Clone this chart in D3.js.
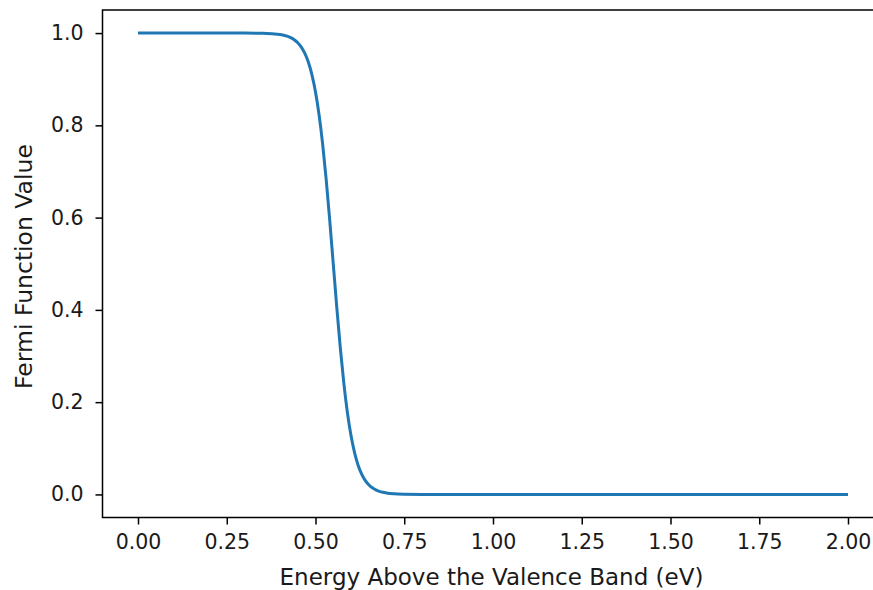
<!DOCTYPE html>
<html>
<head>
<meta charset="utf-8">
<script src="https://cdn.jsdelivr.net/npm/d3@7"></script>
<style>
  html, body { margin: 0; padding: 0; background: #fff; }
  svg { display: block; font-family: "DejaVu Sans", sans-serif; }
</style>
</head>
<body>
<svg id="chart" width="873" height="590"></svg>
<script>
const energy = [0.00, 0.10, 0.20, 0.30, 0.35, 0.40, 0.41, 0.42, 0.43, 0.44, 0.45, 0.46, 0.47, 0.48, 0.49,
                0.50, 0.51, 0.52, 0.53, 0.54, 0.55, 0.56, 0.57, 0.58, 0.59, 0.60, 0.61, 0.62, 0.63, 0.64,
                0.65, 0.66, 0.67, 0.68, 0.69, 0.70, 0.72, 0.75, 0.80, 0.90, 1.00, 1.25, 1.50, 1.75, 2.00];
const fermi  = [1.000, 1.000, 1.000, 0.9999, 0.9995, 0.9969, 0.9954, 0.9933, 0.9902, 0.9857, 0.9791, 0.9695, 0.9559, 0.9366, 0.9095,
                0.8725, 0.8232, 0.7602, 0.6834, 0.5950, 0.5000, 0.4050, 0.3166, 0.2398, 0.1768, 0.1275, 0.0905, 0.0634, 0.0441, 0.0304,
                0.0209, 0.0143, 0.0098, 0.0067, 0.0046, 0.0031, 0.0014, 0.0005, 0.0001, 0.0000, 0.0000, 0.0000, 0.0000, 0.0000, 0.0000];
const xTicks = [0.00, 0.25, 0.50, 0.75, 1.00, 1.25, 1.50, 1.75, 2.00];
const yTicks = [0.0, 0.2, 0.4, 0.6, 0.8, 1.0];
const xLabel = "Energy Above the Valence Band (eV)";
const yLabel = "Fermi Function Value";

(function () {
  const svg = d3.select("#chart");
  const mLeft = 102.5, mRight = 883.5, mTop = 10, mBottom = 517.5;

  const x = d3.scaleLinear().domain([-0.1, 2.1]).range([mLeft, mRight]);
  const y = d3.scaleLinear().domain([-0.05, 1.05]).range([mBottom, mTop]);

  const data = energy.map((e, i) => ({ e, f: fermi[i] }));

  // line
  svg.append("path")
    .datum(data)
    .attr("fill", "none")
    .attr("stroke", "#1f77b4")
    .attr("stroke-width", 3)
    .attr("stroke-linejoin", "round")
    .attr("d", d3.line().x(d => x(d.e)).y(d => y(d.f)).curve(d3.curveMonotoneX));

  // axes
  const xAxis = d3.axisBottom(x).tickValues(xTicks).tickFormat(d3.format(".2f")).tickSize(7).tickPadding(10);
  const yAxis = d3.axisLeft(y).tickValues(yTicks).tickFormat(d3.format(".1f")).tickSize(7).tickPadding(12);

  const gx = svg.append("g").attr("transform", `translate(0,${mBottom})`).call(xAxis);
  const gy = svg.append("g").attr("transform", `translate(${mLeft},0)`).call(yAxis);
  [gx, gy].forEach(g => {
    g.select(".domain").remove();
    g.selectAll(".tick line").attr("stroke", "#000").attr("stroke-width", 1.5);
    g.selectAll(".tick text").attr("fill", "#1a1a1a").style("font-size", "20.5px").style("font-family", "'DejaVu Sans', sans-serif");
  });

  // frame
  svg.append("rect")
    .attr("x", mLeft).attr("y", mTop)
    .attr("width", mRight - mLeft).attr("height", mBottom - mTop)
    .attr("fill", "none").attr("stroke", "#000").attr("stroke-width", 1.5);

  // labels
  svg.append("text")
    .attr("x", 491.5)
    .attr("y", 585)
    .attr("text-anchor", "middle")
    .style("font-size", "23px")
    .attr("fill", "#1a1a1a")
    .text(xLabel);

  svg.append("text")
    .attr("transform", `translate(32,266.5) rotate(-90)`)
    .attr("text-anchor", "middle")
    .style("font-size", "23.5px")
    .attr("fill", "#1a1a1a")
    .text(yLabel);
})();
</script>
</body>
</html>
